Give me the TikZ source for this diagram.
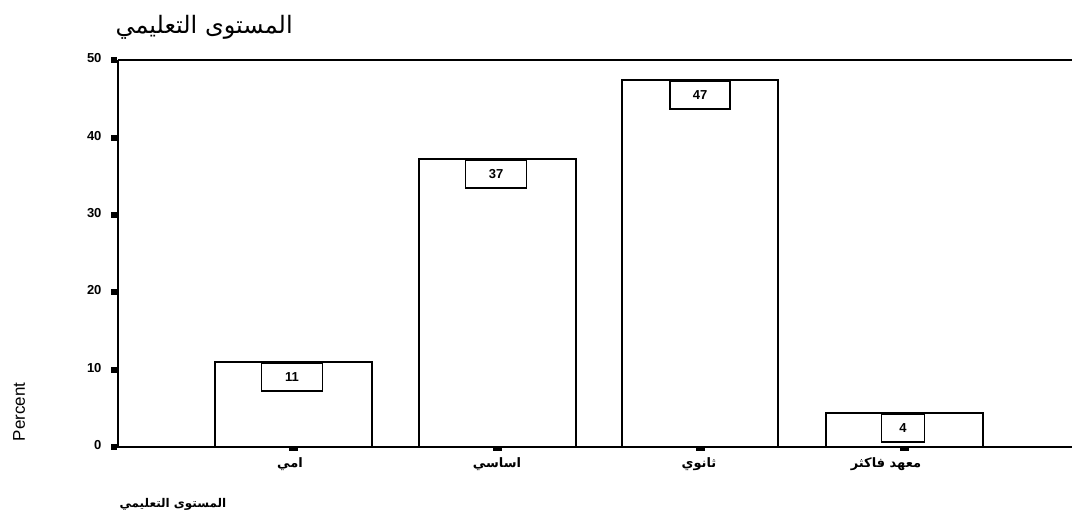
\documentclass[tikz,border=0pt]{standalone}
\usepackage{fontspec}
\setmainfont{Liberation Sans}
\newfontfamily\arabicfont[Script=Arabic]{DejaVu Sans}
\TeXXeTstate=1
\begin{document}
\begin{tikzpicture}[x=1pt,y=-1pt,
  bar/.style={draw=black,line width=1.8pt,fill=white},
  valbox/.style={draw=black,line width=1.5pt,fill=white,minimum height=28pt,inner sep=0pt,font=\fontsize{13}{14}\selectfont\bfseries},
  ytick/.style={fill=black,minimum width=6pt,minimum height=6pt,inner sep=0pt},
  xtick/.style={fill=black,minimum width=9pt,minimum height=4pt,inner sep=0pt},
  ylab/.style={anchor=east,font=\fontsize{13}{14}\selectfont\bfseries},
  xlab/.style={font=\fontsize{13}{14}\selectfont\arabicfont\bfseries}]
\useasboundingbox (0,0) rectangle (1072,530);
% bars
\draw[bar] (215,447) rectangle (372,362);
\draw[bar] (419,447) rectangle (576,159);
\draw[bar] (622,447) rectangle (778,80);
\draw[bar] (826,447) rectangle (983,413);
% value boxes
\node[valbox,minimum width=61pt,anchor=north] (v1) at (292,362) {11};
\node[valbox,minimum width=61pt,anchor=north] (v2) at (496,159) {37};
\node[valbox,minimum width=60pt,anchor=north] (v3) at (700,80) {47};
\node[valbox,minimum width=43pt,anchor=north] (v4) at (903,413) {4};
% axes
\draw[line width=1.8pt] (118,60) -- (1072,60);
\draw[line width=1.8pt] (118,60) -- (118,447) -- (1072,447);
% y ticks
\foreach \v/\yy in {0/447,10/370,20/292,30/215,40/138,50/60}{
  \node[ytick] (yt\v) at (114,\yy) {};
  \node[ylab] (yl\v) at (105,\yy-2) {\v};
}
% x ticks and labels
\node[xtick] (xt1) at (293,449) {};
\node[xtick] (xt2) at (497,449) {};
\node[xtick] (xt3) at (700,449) {};
\node[xtick] (xt4) at (904,449) {};
\node[xlab] (xl1) at (290,464) {\beginR امي\endR};
\node[xlab] (xl2) at (497,464) {\beginR اساسي\endR};
\node[xlab] (xl3) at (699,464) {\beginR ثانوي\endR};
\node[xlab] (xl4) at (886,464) {\beginR معهد فاكثر\endR};
% titles
\node[anchor=west,font=\fontsize{24}{28}\selectfont\arabicfont] (title) at (112,27) {\beginR المستوى التعليمي\endR};
\node[anchor=west,font=\fontsize{12}{14}\selectfont\arabicfont\bfseries] (xtitle) at (116,504) {\beginR المستوى التعليمي\endR};
\node[rotate=90,font=\fontsize{17}{20}\selectfont] (ytitle) at (19,412) {Percent};
\end{tikzpicture}
\end{document}
